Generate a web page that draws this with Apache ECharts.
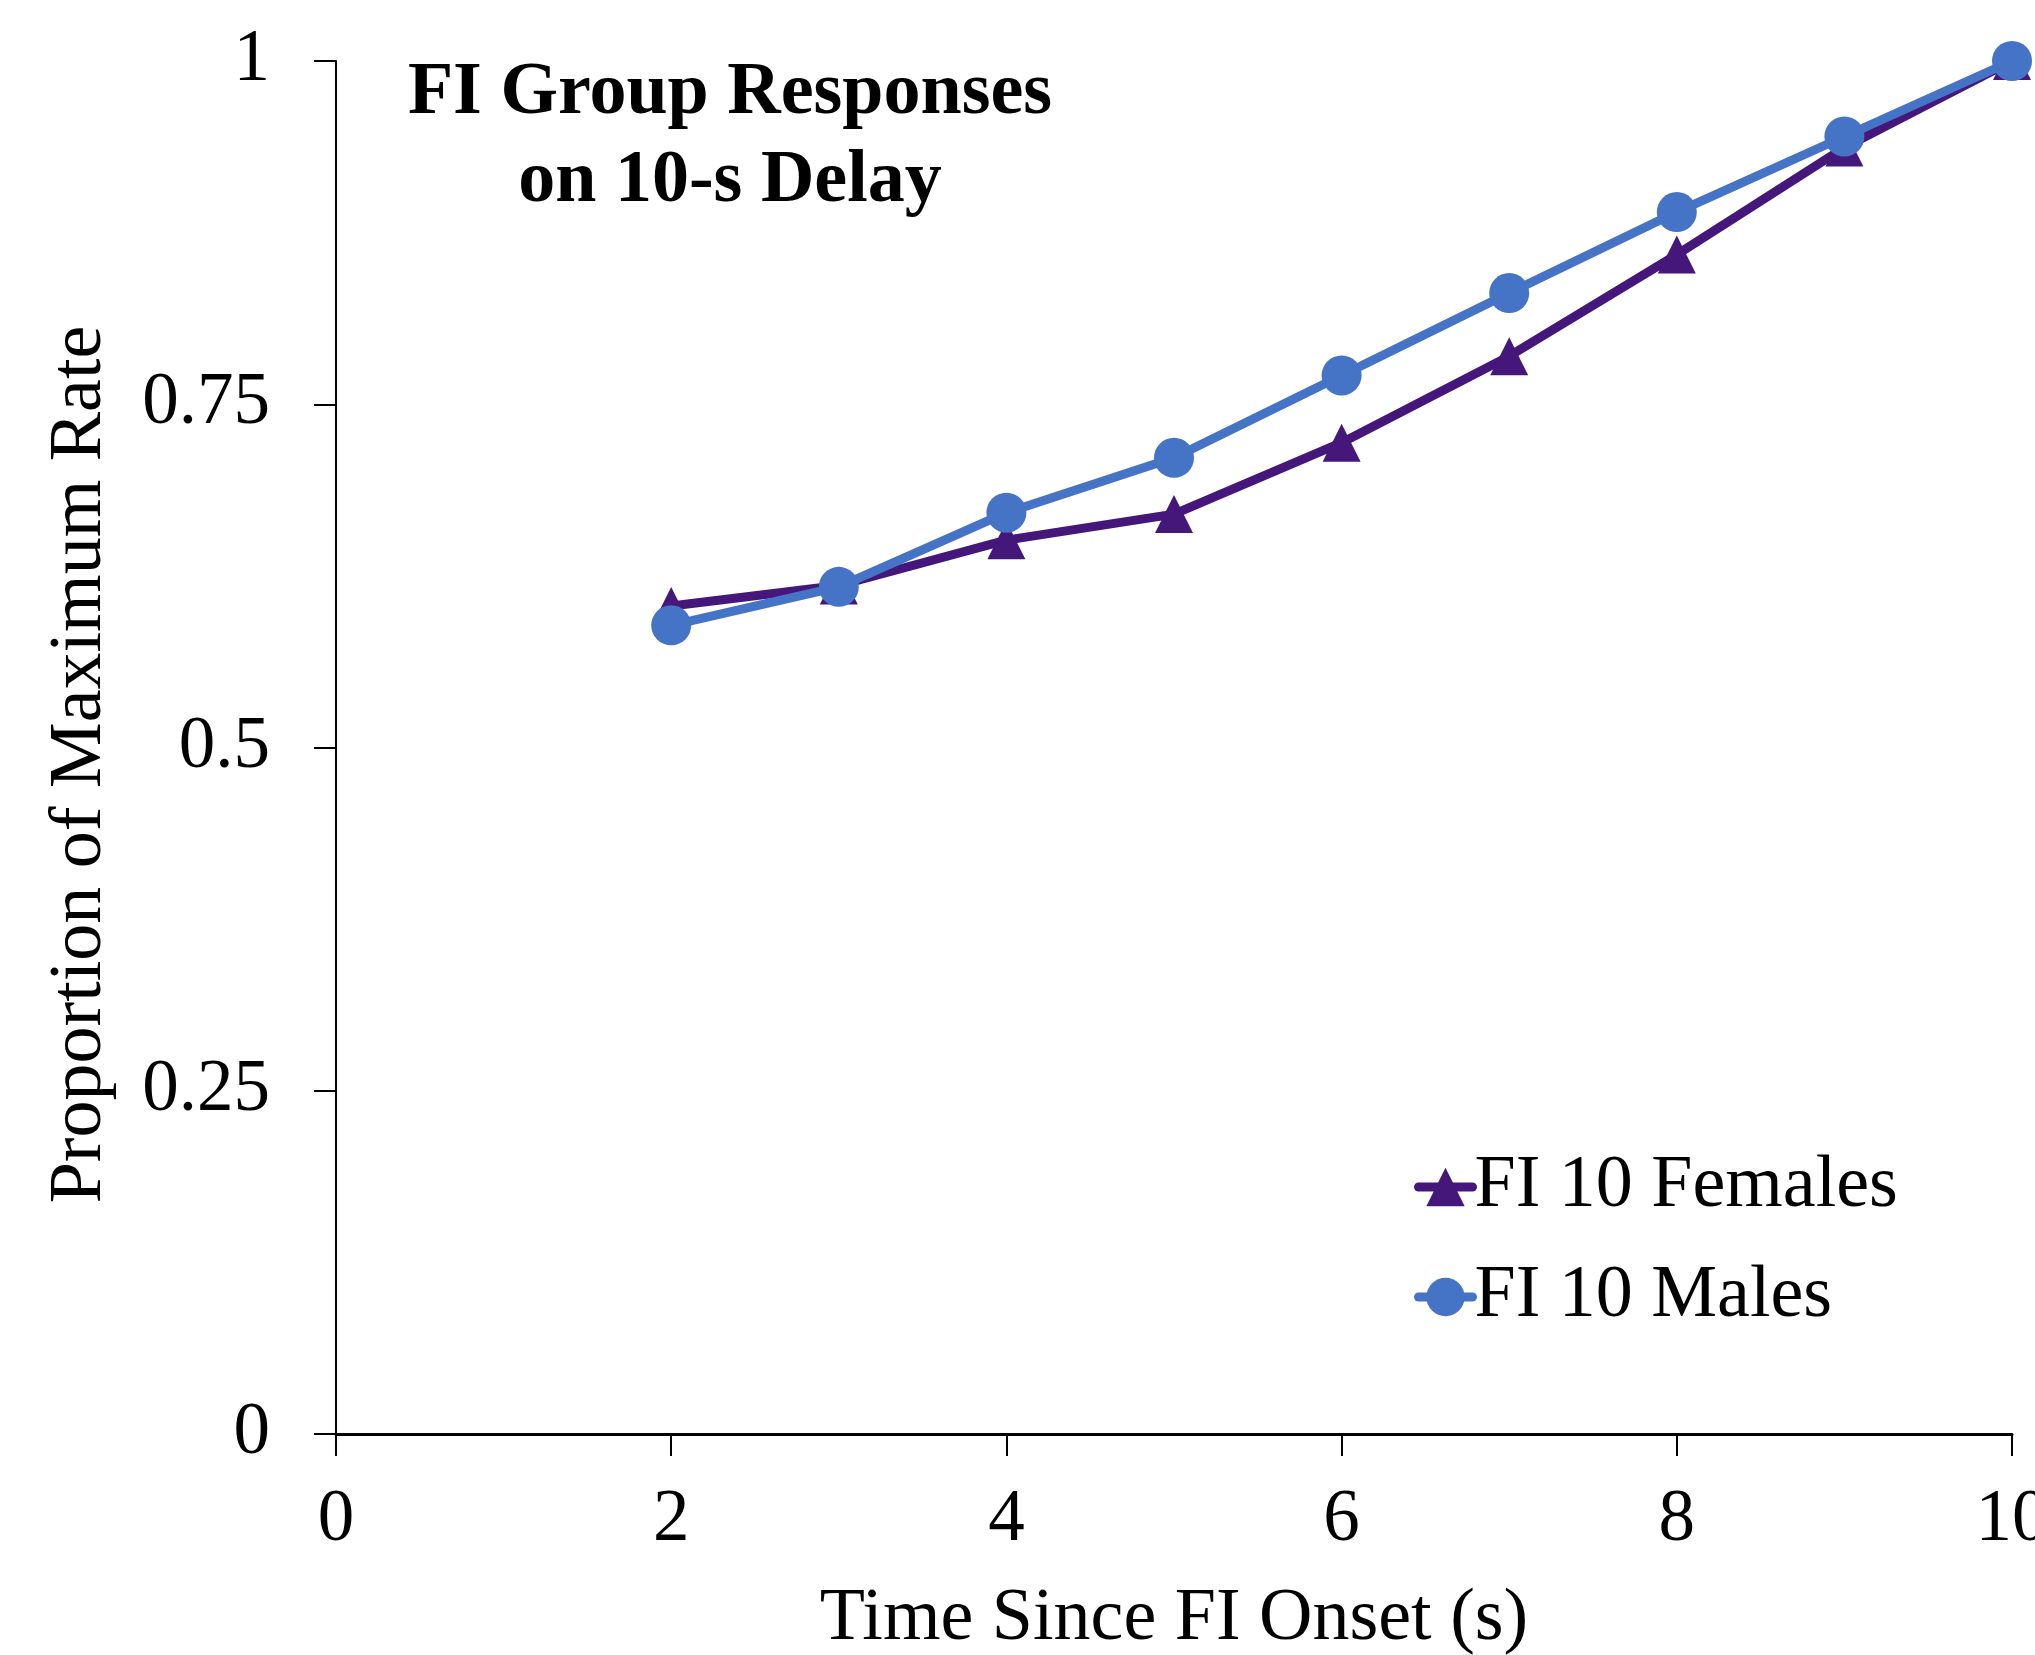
<!DOCTYPE html>
<html>
<head>
<meta charset="utf-8">
<script src="https://cdn.jsdelivr.net/npm/echarts@6/dist/echarts.min.js"></script>
<style>html,body{margin:0;padding:0;background:#fff;}#c{width:2035px;height:1655px;}</style>
</head>
<body>
<div id="c"></div>
<script>
var times = [2, 3, 4, 5, 6, 7, 8, 9, 10];
var females = [0.603, 0.618, 0.651, 0.670, 0.722, 0.785, 0.859, 0.937, 1.0];
var males = [0.589, 0.617, 0.671, 0.711, 0.771, 0.831, 0.890, 0.945, 1.0];
var xTicks = [0, 2, 4, 6, 8, 10];
var yTicks = [0, 0.25, 0.5, 0.75, 1];

function pairs(xs, ys) { return xs.map(function (x, i) { return [x, ys[i]]; }); }

var FONT = '"Liberation Serif", "Times New Roman", serif';
var chart = echarts.init(document.getElementById('c'));
chart.setOption({
  backgroundColor: '#ffffff',
  animation: false,
  title: {
    text: 'FI Group Responses\non 10-s Delay',
    left: 730, top: 50, textAlign: 'center', padding: 0,
    textStyle: { fontFamily: FONT, fontWeight: 'bold', fontSize: 74, lineHeight: 88, color: '#000' }
  },
  legend: {
    orient: 'vertical', left: 1414, top: 1150, itemWidth: 54, itemHeight: 48, itemGap: 36,
    padding: 0,
    lineStyle: { width: 9, cap: 'round' },
    textStyle: { fontFamily: FONT, fontSize: 74, lineHeight: 74, color: '#000', padding: [0, 0, 0, -3] },
    data: ['FI 10 Females', 'FI 10 Males']
  },
  grid: { left: 336, right: 23, top: 61, bottom: 221, containLabel: false, outerBoundsMode: 'none' },
  xAxis: {
    type: 'value', min: 0, max: 10, interval: 2,
    name: 'Time Since FI Onset (s)', nameLocation: 'middle', nameGap: 149,
    nameTextStyle: { fontFamily: FONT, fontSize: 74, color: '#000' },
    axisLine: { onZero: false, lineStyle: { color: '#000', width: 3 } },
    axisTick: { show: true, inside: false, length: 22, lineStyle: { color: '#000', width: 2 } },
    axisLabel: { margin: 50, fontFamily: FONT, fontSize: 73, color: '#000',
      customValues: xTicks },
    splitLine: { show: false }
  },
  yAxis: {
    type: 'value', min: 0, max: 1, interval: 0.25,
    name: 'Proportion of Maximum Rate', nameLocation: 'middle', nameGap: 218,
    nameTextStyle: { fontFamily: FONT, fontSize: 74, color: '#000', padding: [0, 34, 0, 0] },
    axisLine: { onZero: false, lineStyle: { color: '#000', width: 2 } },
    axisTick: { show: true, inside: false, length: 22, lineStyle: { color: '#000', width: 2 } },
    axisLabel: { margin: 66, fontFamily: FONT, fontSize: 73, color: '#000',
      customValues: yTicks },
    splitLine: { show: false }
  },
  series: [
    {
      name: 'FI 10 Females', type: 'line', data: pairs(times, females),
      symbol: 'triangle', symbolSize: 38, showAllSymbol: true,
      lineStyle: { color: '#45177B', width: 9 },
      itemStyle: { color: '#45177B' }, z: 2
    },
    {
      name: 'FI 10 Males', type: 'line', data: pairs(times, males),
      symbol: 'circle', symbolSize: 40, showAllSymbol: true,
      lineStyle: { color: '#4574C6', width: 9 },
      itemStyle: { color: '#4574C6' }, z: 3
    }
  ]
});
</script>
</body>
</html>
